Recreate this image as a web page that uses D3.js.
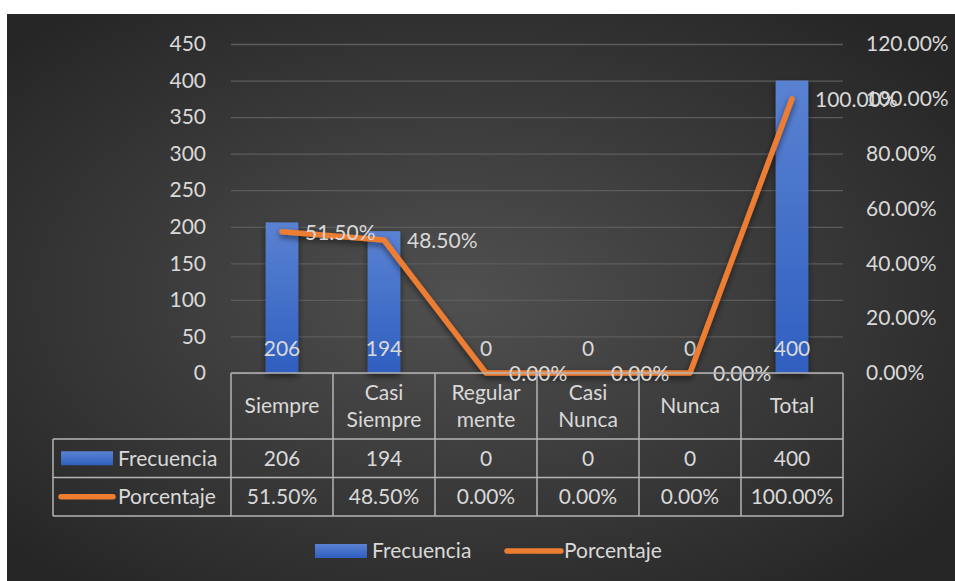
<!DOCTYPE html>
<html>
<head>
<meta charset="utf-8">
<script src="https://cdn.jsdelivr.net/npm/d3@7"></script>
<style>
  body { margin: 0; background: #fff; }
  svg text { font-family: Lato, "Open Sans", sans-serif; fill: #d9d9d9; }
</style>
</head>
<body>
<div id="chart"></div>
<script>
// data
var categories = ["Siempre", "Casi Siempre", "Regular mente", "Casi Nunca", "Nunca", "Total"];
var categoryLines = [["Siempre"], ["Casi", "Siempre"], ["Regular", "mente"], ["Casi", "Nunca"], ["Nunca"], ["Total"]];
var frecuencia = [206, 194, 0, 0, 0, 400];
var porcentaje = [0.515, 0.485, 0, 0, 0, 1];
var leftTicks = [0, 50, 100, 150, 200, 250, 300, 350, 400, 450];
var rightTicks = [0, 0.2, 0.4, 0.6, 0.8, 1.0, 1.2];

var width = 955, height = 581;
var margin = {top: 44, left: 231, right: 112, bottom: 208};
var fs = "21px";

var svg = d3.select("#chart")
  .append("svg")
  .attr("width", width)
  .attr("height", height);

var defs = svg.append("defs");

var bg = defs.append("radialGradient")
  .attr("id", "bg")
  .attr("cx", "48%").attr("cy", "50%").attr("r", "65%");
bg.append("stop").attr("offset", "0%").attr("stop-color", "#505050");
bg.append("stop").attr("offset", "100%").attr("stop-color", "#262626");

var barGrad = defs.append("linearGradient")
  .attr("id", "barGrad")
  .attr("x1", 0).attr("y1", 0).attr("x2", 0).attr("y2", 1);
barGrad.append("stop").attr("offset", "0%").attr("stop-color", "#5a82d2");
barGrad.append("stop").attr("offset", "100%").attr("stop-color", "#2f5fc0");

var shadow = defs.append("filter").attr("id", "shadow")
  .attr("x", "-50%").attr("y", "-50%").attr("width", "200%").attr("height", "200%");
shadow.append("feDropShadow")
  .attr("dx", 0).attr("dy", 3).attr("stdDeviation", 3)
  .attr("flood-color", "#000").attr("flood-opacity", 0.55);

// background panel
svg.append("rect")
  .attr("x", 7).attr("y", 14)
  .attr("width", width - 7).attr("height", height - 14)
  .attr("fill", "url(#bg)");

var x = d3.scaleBand()
  .domain(categories)
  .range([margin.left, width - margin.right])
  .paddingInner(0.68).paddingOuter(0.34);

var xc = d3.scaleBand()
  .domain(categories)
  .range([margin.left, width - margin.right]);

var y = d3.scaleLinear()
  .domain([0, 450])
  .range([height - margin.bottom, margin.top]);

var y2 = d3.scaleLinear()
  .domain([0, 1.2])
  .range([height - margin.bottom, margin.top]);

// grid
var yGrid = d3.axisLeft(y)
  .tickValues(leftTicks)
  .tickSize(-(width - margin.right - margin.left))
  .tickFormat("");

svg.append("g")
  .attr("transform", `translate(${margin.left},0)`)
  .attr("class", "grid")
  .call(yGrid)
  .call(g => g.select(".domain").remove())
  .selectAll("line")
  .style("stroke", "#5c5c5c")
  .style("stroke-width", 1.3);

// left axis
svg.append("g")
  .attr("transform", `translate(${margin.left - 22},0)`)
  .call(d3.axisLeft(y).tickValues(leftTicks).tickSize(0))
  .call(g => g.select(".domain").remove())
  .selectAll("text")
  .style("font-size", fs);

// right axis
svg.append("g")
  .attr("transform", `translate(${width - margin.right + 23},0)`)
  .call(d3.axisRight(y2).tickValues(rightTicks).tickSize(0)
    .tickFormat(d => (d * 100).toFixed(2) + "%"))
  .call(g => g.select(".domain").remove())
  .selectAll("text")
  .attr("x", 0)
  .style("font-size", fs);

// bars
svg.append("g")
  .selectAll("rect")
  .data(frecuencia)
  .enter()
  .append("rect")
  .attr("x", (d, i) => x(categories[i]))
  .attr("width", x.bandwidth())
  .attr("y", d => y(d))
  .attr("height", d => y(0) - y(d))
  .attr("fill", "url(#barGrad)")
  .attr("filter", "url(#shadow)");

// bar labels
svg.append("g")
  .selectAll("text")
  .data(frecuencia)
  .enter()
  .append("text")
  .attr("x", (d, i) => xc(categories[i]) + xc.bandwidth() / 2)
  .attr("y", y(0) - 17)
  .attr("text-anchor", "middle")
  .style("font-size", fs)
  .text(d => d);

// line
var line = d3.line()
  .x((d, i) => xc(categories[i]) + xc.bandwidth() / 2)
  .y(d => y2(d));

svg.append("path")
  .datum(porcentaje)
  .attr("d", line)
  .attr("fill", "none")
  .attr("stroke", "#ed7d31")
  .attr("stroke-width", 5.5)
  .attr("stroke-linecap", "round")
  .attr("stroke-linejoin", "round")
  .attr("filter", "url(#shadow)");

// line labels
svg.append("g")
  .selectAll("text")
  .data(porcentaje)
  .enter()
  .append("text")
  .attr("x", (d, i) => xc(categories[i]) + xc.bandwidth() / 2 + 23)
  .attr("y", d => y2(d) + 1)
  .attr("dy", "0.35em")
  .style("font-size", fs)
  .text(d => (d * 100).toFixed(2) + "%");

// data table
var rowTop = y(0), rowHead = 66, rowH = 38.5;
var legendLeft = 53;
var tableRight = width - margin.right;
var table = svg.append("g").attr("class", "table");
var borderColor = "#b5b5b5";

// horizontal lines
table.append("line")
  .attr("x1", margin.left).attr("x2", tableRight)
  .attr("y1", rowTop).attr("y2", rowTop);
[rowTop + rowHead, rowTop + rowHead + rowH, rowTop + rowHead + 2 * rowH].forEach(function(yy) {
  table.append("line")
    .attr("x1", legendLeft).attr("x2", tableRight)
    .attr("y1", yy).attr("y2", yy);
});
// vertical lines
categories.forEach(function(c) {
  table.append("line")
    .attr("x1", xc(c)).attr("x2", xc(c))
    .attr("y1", rowTop).attr("y2", rowTop + rowHead + 2 * rowH);
});
table.append("line")
  .attr("x1", tableRight).attr("x2", tableRight)
  .attr("y1", rowTop).attr("y2", rowTop + rowHead + 2 * rowH);
table.append("line")
  .attr("x1", legendLeft).attr("x2", legendLeft)
  .attr("y1", rowTop + rowHead).attr("y2", rowTop + rowHead + 2 * rowH);
table.selectAll("line")
  .style("stroke", borderColor)
  .style("stroke-width", 1.5);

// header labels and cell values
categories.forEach(function(c, i) {
  var lines = categoryLines[i];
  var cy = rowTop + rowHead / 2;
  lines.forEach(function(t, j) {
    table.append("text")
      .attr("x", xc(c) + xc.bandwidth() / 2)
      .attr("y", cy + (j - (lines.length - 1) / 2) * 27)
      .attr("dy", "0.35em")
      .attr("text-anchor", "middle")
      .style("font-size", fs)
      .text(t);
  });
  table.append("text")
    .attr("x", xc(c) + xc.bandwidth() / 2)
    .attr("y", rowTop + rowHead + rowH / 2)
    .attr("dy", "0.35em")
    .attr("text-anchor", "middle")
    .style("font-size", fs)
    .text(frecuencia[i]);
  table.append("text")
    .attr("x", xc(c) + xc.bandwidth() / 2)
    .attr("y", rowTop + rowHead + rowH * 1.5)
    .attr("dy", "0.35em")
    .attr("text-anchor", "middle")
    .style("font-size", fs)
    .text((porcentaje[i] * 100).toFixed(2) + "%");
});

// table legend keys
table.append("rect")
  .attr("x", 61).attr("y", rowTop + rowHead + rowH / 2 - 7)
  .attr("width", 52).attr("height", 14)
  .attr("fill", "url(#barGrad)");
table.append("text")
  .attr("x", 118).attr("y", rowTop + rowHead + rowH / 2)
  .attr("dy", "0.35em")
  .style("font-size", fs)
  .text("Frecuencia");
table.append("line")
  .attr("x1", 61).attr("x2", 113)
  .attr("y1", rowTop + rowHead + rowH * 1.5).attr("y2", rowTop + rowHead + rowH * 1.5)
  .style("stroke", "#ed7d31").style("stroke-width", 5.5).style("stroke-linecap", "round");
table.append("text")
  .attr("x", 118).attr("y", rowTop + rowHead + rowH * 1.5)
  .attr("dy", "0.35em")
  .style("font-size", fs)
  .text("Porcentaje");

// bottom legend
var legend = svg.append("g").attr("class", "legend");
legend.append("rect")
  .attr("x", 315).attr("y", 544)
  .attr("width", 52).attr("height", 14)
  .attr("fill", "url(#barGrad)");
legend.append("text")
  .attr("x", 372).attr("y", 551)
  .attr("dy", "0.35em")
  .style("font-size", fs)
  .text("Frecuencia");
legend.append("line")
  .attr("x1", 507).attr("x2", 561)
  .attr("y1", 551).attr("y2", 551)
  .style("stroke", "#ed7d31").style("stroke-width", 5.5).style("stroke-linecap", "round");
legend.append("text")
  .attr("x", 564).attr("y", 551)
  .attr("dy", "0.35em")
  .style("font-size", fs)
  .text("Porcentaje");
</script>
</body>
</html>
